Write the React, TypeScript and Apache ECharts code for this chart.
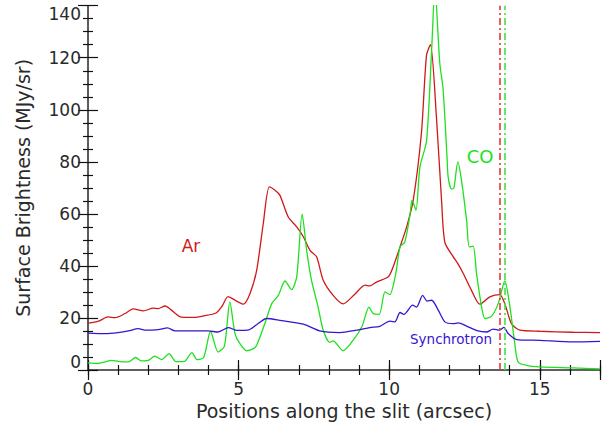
import React, { useEffect, useRef } from "react";
import * as echarts from "echarts";

const arData: number[][] = [
  [0.0, 18.0], [0.35, 18.8], [0.67, 20.4], [0.9, 20.1], [1.23, 21.7], [1.5, 23.5], [1.84, 22.7],
  [2.17, 23.8], [2.33, 23.6], [2.56, 24.6], [2.75, 23.2], [3.1, 20.3], [3.5, 20.2], [3.85, 20.8],
  [4.25, 21.9], [4.45, 24.5], [4.65, 28.2], [4.93, 26.5], [5.16, 25.3], [5.38, 29.4], [5.6, 38.3],
  [5.82, 56.3], [6.02, 70.4], [6.21, 69.1], [6.37, 67.2], [6.65, 58.8], [6.93, 55.0], [7.15, 51.2],
  [7.37, 46.0], [7.59, 43.5], [7.81, 34.5], [8.14, 28.7], [8.47, 25.4], [8.85, 29.0], [9.2, 32.6],
  [9.36, 32.3], [9.58, 33.8], [9.97, 35.8], [10.13, 39.6], [10.36, 47.3], [10.58, 55.0], [10.8, 65.3],
  [11.07, 91.0], [11.24, 121.0], [11.37, 125.0], [11.57, 97.0], [11.74, 65.0], [11.85, 49.0],
  [12.13, 43.5], [12.3, 40.5], [12.46, 37.1], [12.73, 30.7], [13.01, 25.3], [13.34, 28.1], [13.67, 29.0],
  [13.84, 25.5], [14.06, 17.8], [14.34, 15.3], [15.0, 14.9], [16.1, 14.5], [17.0, 14.4],
];

const coData: number[][] = [
  [0.0, 2.7], [0.34, 2.5], [0.56, 3.1], [0.79, 3.7], [1.0, 3.3], [1.34, 3.1], [1.58, 4.8], [1.78, 3.5],
  [2.0, 3.7], [2.22, 5.3], [2.45, 4.0], [2.69, 6.3], [2.92, 3.2], [3.2, 3.3], [3.45, 6.7], [3.62, 4.0],
  [3.84, 4.8], [4.07, 14.8], [4.32, 6.9], [4.53, 9.2], [4.71, 26.2], [4.88, 14.0], [5.04, 10.2],
  [5.27, 7.4], [5.5, 8.2], [5.6, 9.5], [5.87, 17.8], [6.1, 25.5], [6.32, 28.7], [6.54, 34.2], [6.76, 30.9],
  [6.93, 35.8], [7.11, 59.9], [7.26, 46.0], [7.42, 34.5], [7.64, 24.2], [7.81, 15.3], [8.03, 10.6],
  [8.14, 11.2], [8.47, 7.4], [8.8, 11.4], [9.1, 16.8], [9.33, 24.2], [9.47, 21.7], [9.67, 21.4],
  [9.86, 30.0], [10.02, 29.0], [10.22, 37.1], [10.36, 47.3], [10.52, 49.2], [10.69, 59.5], [10.76, 65.3],
  [10.89, 61.4], [11.02, 78.0], [11.24, 88.0], [11.41, 123.0], [11.52, 147.0], [11.57, 140.0],
  [11.68, 118.0], [11.79, 108.0], [11.92, 82.0], [11.96, 74.0], [12.07, 69.5], [12.15, 70.0],
  [12.28, 80.0], [12.4, 73.0], [12.57, 57.6], [12.66, 47.3], [12.79, 47.6], [12.9, 37.1], [13.07, 24.2],
  [13.18, 19.8], [13.4, 20.7], [13.62, 25.5], [13.84, 34.2], [14.01, 24.2], [14.17, 10.2], [14.28, 3.1],
  [14.56, 1.8], [15.0, 1.2], [16.1, 0.8], [17.0, 0.4],
];

const syncData: number[][] = [
  [0.0, 14.2], [0.56, 14.0], [1.0, 14.4], [1.34, 15.0], [1.67, 15.9], [1.89, 15.3], [2.33, 15.5],
  [2.64, 16.2], [2.89, 15.0], [3.44, 15.0], [3.99, 15.0], [4.32, 14.6], [4.66, 16.3], [4.95, 15.2],
  [5.3, 15.3], [5.6, 17.4], [5.93, 19.8], [6.37, 19.1], [7.15, 17.6], [7.7, 15.0], [8.36, 14.4],
  [8.92, 15.3], [9.36, 16.3], [9.69, 16.8], [10.02, 18.8], [10.19, 18.5], [10.36, 22.1], [10.49, 21.4],
  [10.78, 24.9], [10.91, 24.2], [11.11, 28.7], [11.26, 26.5], [11.41, 26.8], [11.63, 23.0],
  [11.85, 18.5], [12.13, 17.8], [12.29, 18.1], [12.57, 16.9], [12.95, 15.0], [13.23, 14.6],
  [13.45, 15.7], [13.67, 15.3], [13.81, 16.4], [13.95, 14.0], [14.23, 11.7], [15.0, 11.4],
  [16.1, 10.8], [17.0, 11.0],
];

const arLineX = 13.67;
const coLineX = 13.84;

const xMin = 0;
const xMax = 17;
const yMin = 0;
const yMax = 140;

const xTitle = "Positions along the slit (arcsec)";
const yTitle = "Surface Brightness (MJy/sr)";

const RED = "#d01818";
const GREEN = "#1ee01e";
const BLUE = "#3a14d0";
const FONT = "DejaVu Sans";
const TXT = "#2a2a2a";

export default function App() {
  const ref = useRef<HTMLDivElement>(null);

  useEffect(() => {
    if (!ref.current) return;
    const chart = echarts.init(ref.current, null, { renderer: "svg" });

    const gridBox = { left: 88, right: 8, top: 5.7, bottom: 58 };
    const axisLine = { show: true, lineStyle: { color: "#555", width: 1.6 } };

    const majorX = (position: string, labels: boolean) => ({
      type: "value",
      gridIndex: 0,
      position,
      min: xMin,
      max: xMax,
      interval: 5,
      axisLine,
      axisTick: { show: true, inside: true, length: 10, lineStyle: { color: "#111", width: 1.2 } },
      axisLabel: {
        show: labels,
        margin: 10,
        fontFamily: FONT,
        fontSize: 17,
        color: TXT,
        formatter: (v: number) => (v % 5 === 0 ? String(v) : ""),
      },
      splitLine: { show: false },
      ...(labels
        ? {
            name: xTitle,
            nameLocation: "middle",
            nameGap: 31,
            nameTextStyle: { fontFamily: FONT, fontSize: 19, color: TXT },
          }
        : {}),
    });

    const minorX = (position: string) => ({
      type: "value",
      gridIndex: 1,
      position,
      min: xMin,
      max: xMax,
      interval: 1,
      axisLine: { show: false },
      axisTick: { show: true, inside: true, length: 5, lineStyle: { color: "#111", width: 1.2 } },
      axisLabel: { show: false },
      splitLine: { show: false },
    });

    const majorY = (position: string, labels: boolean) => ({
      type: "value",
      gridIndex: 0,
      position,
      min: yMin,
      max: yMax,
      interval: 20,
      axisLine,
      axisTick: { show: true, inside: true, length: 10, lineStyle: { color: "#111", width: 1.2 } },
      minorTick: { show: true, splitNumber: 4, length: 5, lineStyle: { color: "#111", width: 1.2 } },
      axisLabel: {
        show: labels,
        margin: 7,
        fontFamily: FONT,
        fontSize: 17,
        color: TXT,
        verticalAlignMinLabel: "bottom",
        verticalAlignMaxLabel: "top",
      },
      splitLine: { show: false },
      minorSplitLine: { show: false },
      ...(labels
        ? {
            name: yTitle,
            nameLocation: "middle",
            nameGap: 56,
            nameTextStyle: { fontFamily: FONT, fontSize: 19, color: TXT },
          }
        : {}),
    });

    const hiddenY = (position: string) => ({
      type: "value",
      gridIndex: 1,
      position,
      min: yMin,
      max: yMax,
      show: false,
    });

    const dashDot = [7, 3, 2, 3];

    chart.setOption({
      animation: false,
      grid: [
        { ...gridBox },
        { ...gridBox },
      ],
      xAxis: [majorX("bottom", true), majorX("top", false), minorX("bottom"), minorX("top")],
      yAxis: [majorY("left", true), majorY("right", false), hiddenY("left"), hiddenY("right")],
      series: [
        {
          name: "Ar",
          type: "line",
          xAxisIndex: 0,
          yAxisIndex: 0,
          data: arData,
          showSymbol: false,
          smooth: 0.25,
          clip: true,
          lineStyle: { color: RED, width: 1.3 },
          markLine: {
            silent: true,
            symbol: ["none", "none"],
            label: { show: false },
            lineStyle: { color: "#e03a3a", width: 1.6, type: dashDot },
            data: [{ xAxis: arLineX }],
          },
        },
        {
          name: "CO",
          type: "line",
          xAxisIndex: 0,
          yAxisIndex: 0,
          data: coData,
          showSymbol: false,
          smooth: 0.25,
          clip: true,
          lineStyle: { color: GREEN, width: 1.3 },
          markLine: {
            silent: true,
            symbol: ["none", "none"],
            label: { show: false },
            lineStyle: { color: "#44e044", width: 1.6, type: dashDot },
            data: [{ xAxis: coLineX }],
          },
        },
        {
          name: "Synchrotron",
          type: "line",
          xAxisIndex: 0,
          yAxisIndex: 0,
          data: syncData,
          showSymbol: false,
          smooth: 0.25,
          clip: true,
          lineStyle: { color: BLUE, width: 1.3 },
        },
      ],
      graphic: [
        {
          type: "text",
          x: 191,
          y: 246,
          style: { text: "Ar", fill: RED, font: `17px "${FONT}"`, textAlign: "center", textVerticalAlign: "middle" },
        },
        {
          type: "text",
          x: 480,
          y: 156,
          style: { text: "CO", fill: GREEN, font: `18px "${FONT}"`, textAlign: "center", textVerticalAlign: "middle" },
        },
        {
          type: "text",
          x: 451,
          y: 339,
          style: { text: "Synchrotron", fill: BLUE, font: `13.5px "${FONT}"`, textAlign: "center", textVerticalAlign: "middle" },
        },
      ],
    });

    return () => chart.dispose();
  }, []);

  return (
    <div
      ref={ref}
      style={{ position: "fixed", left: 0, top: 0, width: 608, height: 428, background: "#fff" }}
    />
  );
}
